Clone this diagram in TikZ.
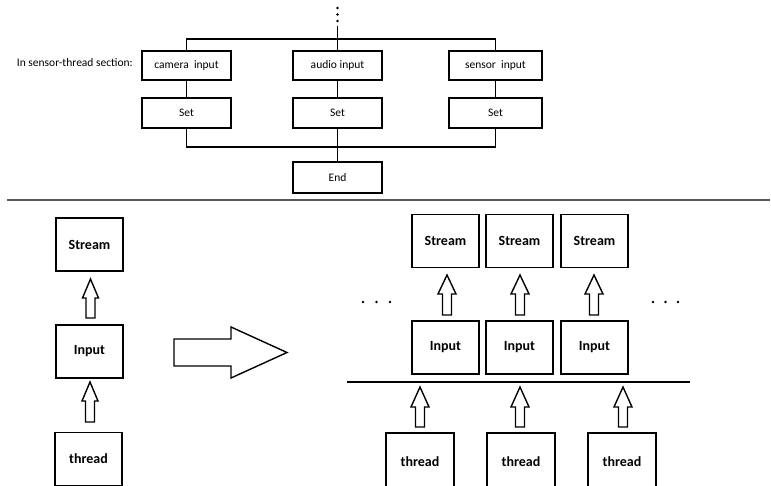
\documentclass[tikz,border=0pt]{standalone}
\usepackage{fontspec}
\setmainfont{Carlito}
\begin{document}
\begin{tikzpicture}[x=1pt,y=-1pt,
  topbox/.style={draw,line width=2pt,minimum width=89pt,minimum height=29pt,inner sep=0pt,font=\fontsize{11.5}{13}\selectfont},
  botbox/.style={draw,line width=1.8pt,minimum width=67pt,minimum height=53pt,inner sep=0pt,font=\fontsize{14}{16}\selectfont\bfseries},
  conn/.style={line width=1.5pt},
  blk/.style={draw,line width=1.4pt,fill=white,line join=miter}]
\useasboundingbox (0,0) rectangle (771,486);
\fill[white] (0,0) rectangle (771,486);
\newcommand{\blockup}[6]{% cx, tip, headbase, bottom, halfhead, halfshaft
  \draw[blk] (#1,#2) -- (#1+#5,#3) -- (#1+#6,#3) -- (#1+#6,#4) -- (#1-#6,#4) -- (#1-#6,#3) -- (#1-#5,#3) -- cycle;}
% ---------- top section ----------
\node[topbox] (cam) at (186.5,65.5) {camera\ \ input};
\node[topbox] (aud) at (337.5,65.5) {audio\ input};
\node[topbox,minimum width=93pt] (sen) at (495.5,65.5) {sensor\ \ input};
\node[topbox,minimum height=30pt] (camset) at (186.5,113) {Set};
\node[topbox,minimum height=30pt] (audset) at (337.5,113) {Set};
\node[topbox,minimum width=93pt,minimum height=30pt] (senset) at (495.5,113) {Set};
\node[topbox,minimum height=31pt] (end) at (337.5,177.5) {End};
\node[anchor=east,inner sep=0pt,font=\fontsize{11.5}{13}\selectfont] (lbl) at (133,63) {In sensor-thread section:};
\coordinate (tb) at (337.5,39);
\coordinate (bb) at (337.5,147);
\coordinate (dtop) at (337.5,26);
\draw[conn] (cam.north) |- (tb) -| (sen.north);
\draw[conn] (dtop) -- (aud.north);
\foreach \yy in {8,14.5,21} \fill (337.5,\yy) circle (1.3pt);
\draw[conn] (cam) -- (camset);
\draw[conn] (aud) -- (audset);
\draw[conn] (sen) -- (senset);
\draw[conn] (camset.south) |- (bb) -| (senset.south);
\draw[conn] (audset.south) -- (end.north);
% separator
\coordinate (sepl) at (7,200);
\coordinate (sepr) at (770,200);
\draw[line width=2pt,black!65] (sepl) -- (sepr);
% ---------- bottom left ----------
\node[botbox] (ls) at (89.5,244.5) {Stream};
\node[botbox] (li) at (89.5,351.5) {Input};
\node[botbox] (lt) at (88.5,459) {thread};
\blockup{90.5}{279}{298}{318}{8}{4.5}
\blockup{90}{382}{401}{422}{8}{4.5}
% big arrow
\draw[blk] (174,339) -- (231,339) -- (231,327) -- (287,352.5) -- (231,378) -- (231,366) -- (174,366) -- cycle;
% ---------- bottom right ----------
\node[botbox] (s1) at (445.5,241) {Stream};
\node[botbox] (s2) at (519.5,241) {Stream};
\node[botbox] (s3) at (594.5,241) {Stream};
\node[botbox] (i1) at (445.5,347.5) {Input};
\node[botbox] (i2) at (519.5,347.5) {Input};
\node[botbox] (i3) at (594.5,347.5) {Input};
\blockup{447}{275}{294}{315}{9}{4.5}
\blockup{520}{275}{294}{315}{9}{4.5}
\blockup{594}{275}{294}{315}{9}{4.5}
\coordinate (hl) at (347,382);
\coordinate (hr) at (690,382);
\draw[conn] (hl) -- (hr);
\blockup{420}{387}{407}{427}{9}{4.5}
\blockup{520}{387}{407}{427}{9}{4.5}
\blockup{623}{387}{407}{427}{9}{4.5}
\node[botbox,minimum width=68pt,minimum height=58pt] (t1) at (420,462) {thread};
\node[botbox,minimum width=68pt,minimum height=58pt] (t2) at (521,462) {thread};
\node[botbox,minimum width=68pt,minimum height=58pt] (t3) at (622,462) {thread};
\foreach \xx in {363,376.5,390,653,665.5,678} \fill (\xx,302) circle (1.4pt);
\end{tikzpicture}
\end{document}
